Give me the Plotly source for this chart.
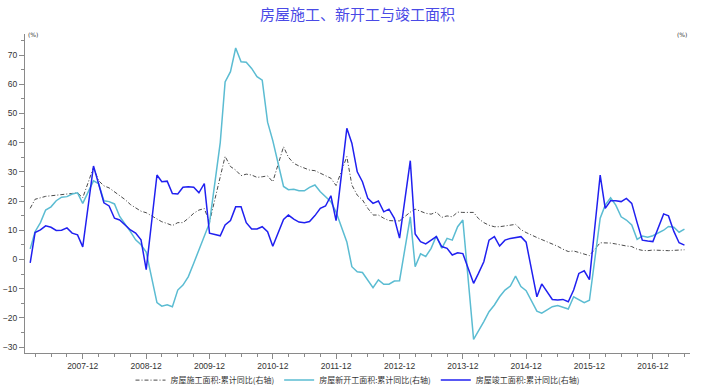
import plotly.graph_objects as go

# Month labels (cumulative data: no January)
dates = [
    "2007-02", "2007-03", "2007-04", "2007-05", "2007-06", "2007-07", "2007-08", "2007-09", "2007-10", "2007-11", "2007-12",
    "2008-02", "2008-03", "2008-04", "2008-05", "2008-06", "2008-07", "2008-08", "2008-09", "2008-10", "2008-11", "2008-12",
    "2009-02", "2009-03", "2009-04", "2009-05", "2009-06", "2009-07", "2009-08", "2009-09", "2009-10", "2009-11", "2009-12",
    "2010-02", "2010-03", "2010-04", "2010-05", "2010-06", "2010-07", "2010-08", "2010-09", "2010-10", "2010-11", "2010-12",
    "2011-02", "2011-03", "2011-04", "2011-05", "2011-06", "2011-07", "2011-08", "2011-09", "2011-10", "2011-11", "2011-12",
    "2012-02", "2012-03", "2012-04", "2012-05", "2012-06", "2012-07", "2012-08", "2012-09", "2012-10", "2012-11", "2012-12",
    "2013-02", "2013-03", "2013-04", "2013-05", "2013-06", "2013-07", "2013-08", "2013-09", "2013-10", "2013-11", "2013-12",
    "2014-02", "2014-03", "2014-04", "2014-05", "2014-06", "2014-07", "2014-08", "2014-09", "2014-10", "2014-11", "2014-12",
    "2015-02", "2015-03", "2015-04", "2015-05", "2015-06", "2015-07", "2015-08", "2015-09", "2015-10", "2015-11", "2015-12",
    "2016-02", "2016-03", "2016-04", "2016-05", "2016-06", "2016-07", "2016-08", "2016-09", "2016-10", "2016-11", "2016-12",
    "2017-02", "2017-03", "2017-04", "2017-05", "2017-06",
]

# 房屋施工面积:累计同比 (%)
construction = [
    17.5, 20.6, 21.1, 21.6, 21.8, 22.0, 22.4, 22.5, 22.7, 22.8, 21.1,
    31.5, 27.0, 25.2, 24.5, 23.2, 22.0, 20.5, 18.8, 17.6, 16.5, 16.0,
    13.8, 12.9, 12.3, 11.6, 12.6, 12.6, 14.1, 15.8, 16.9, 17.4, 12.8,
    28.0, 35.3, 31.8, 30.6, 28.7, 29.2, 28.9, 28.1, 28.3, 28.6, 26.6,
    38.6, 35.0, 32.9, 32.0, 31.2, 30.6, 30.4, 29.5, 28.6, 27.8, 25.3,
    35.2, 25.5, 22.0, 20.4, 17.5, 15.2, 15.2, 14.1, 13.3, 13.2, 13.2,
    16.2, 17.2, 16.5, 15.8, 15.5, 16.2, 14.4, 14.9, 14.6, 16.2, 16.1,
    16.1, 14.0, 12.6, 11.7, 11.2, 11.2, 11.4, 11.8, 12.0, 10.2, 9.2,
    7.5, 6.8, 6.2, 5.3, 4.5, 3.5, 2.7, 2.9, 2.3, 1.9, 1.3,
    5.7, 5.7, 5.6, 5.3, 4.9, 4.6, 4.4, 3.5, 3.1, 3.0, 3.2,
    3.0, 3.0, 3.1, 3.2, 3.3,
]

# 房屋新开工面积:累计同比 (%)
new_starts = [
    3.6, 9.5, 12.6, 16.9, 18.0, 20.1, 21.3, 21.5, 22.4, 22.8, 19.2,
    26.9, 26.0, 20.1, 19.8, 19.0, 14.7, 12.2, 9.5, 6.7, 5.0, 2.5,
    -14.8, -16.0, -15.5, -16.2, -10.5, -8.8, -5.9, -1.3, 3.2, 8.0, 12.5,
    40.0, 60.8, 64.3, 72.4, 67.7, 67.5, 65.4, 62.6, 61.4, 47.0, 40.7,
    25.0, 23.9, 24.0, 23.5, 23.5, 24.7, 25.5, 23.2, 21.5, 19.8, 16.2,
    6.0, -2.5, -4.2, -4.5, -7.0, -9.7, -7.0, -8.5, -8.5, -7.4, -7.3,
    14.6, -2.5, 1.9, 1.0, 3.8, 8.0, 3.8, 7.2, 6.6, 11.2, 13.5,
    -27.4, -24.7, -21.3, -17.9, -15.6, -12.8, -10.5, -9.1, -5.7, -9.3, -10.7,
    -17.7, -18.4, -17.3, -16.2, -15.8, -16.5, -17.0, -12.8, -13.8, -14.8, -14.0,
    14.1, 18.6, 21.1, 18.6, 14.6, 13.5, 11.8, 6.9, 8.0, 7.6, 8.1,
    10.0, 11.3, 11.0, 9.3, 10.4,
]

# 房屋竣工面积:累计同比 (%)
completions = [
    -1.2, 9.2, 10.1, 11.5, 11.0, 9.9, 10.0, 10.8, 9.0, 8.4, 4.3,
    32.0, 26.0, 19.4, 18.3, 14.1, 13.5, 11.8, 10.1, 9.0, 6.7, -3.5,
    28.9, 26.6, 26.8, 22.6, 22.4, 24.7, 24.9, 24.7, 22.8, 26.0, 9.0,
    8.1, 11.8, 13.3, 18.0, 18.0, 12.6, 10.4, 10.4, 11.2, 9.5, 4.5,
    13.7, 15.2, 13.8, 12.8, 12.6, 13.0, 15.0, 17.5, 18.3, 21.8, 13.3,
    44.9, 39.8, 30.0, 26.6, 20.9, 19.2, 20.0, 16.3, 17.2, 14.1, 7.3,
    33.8, 8.7, 6.1, 5.3, 6.6, 7.8, 4.4, 3.8, 1.5, 2.3, 2.0,
    -8.2, -4.8, -0.8, 6.6, 7.8, 4.6, 6.6, 7.2, 7.6, 7.8, 5.9,
    -12.8, -8.4, -11.1, -13.7, -13.9, -13.7, -14.5, -10.5, -4.8, -3.9, -6.9,
    28.9, 17.5, 20.1, 20.1, 19.8, 20.9, 19.2, 12.6, 6.6, 6.3, 6.1,
    15.6, 14.9, 9.6, 5.7, 4.9,
]

series_names = [
    "房屋施工面积:累计同比(右轴)",
    "房屋新开工面积:累计同比(右轴)",
    "房屋竣工面积:累计同比(右轴)",
]
title_text = "房屋施工、新开工与竣工面积"

x_dates = [d + "-01" for d in dates]

fig = go.Figure()
fig.add_trace(go.Scatter(
    x=x_dates, y=construction, name=series_names[0], mode="lines",
    line=dict(color="#4A4A4A", width=1, dash="4px,2px,1px,2px"),
))
fig.add_trace(go.Scatter(
    x=x_dates, y=new_starts, name=series_names[1], mode="lines",
    line=dict(color="#5BBCD2", width=1.5),
))
fig.add_trace(go.Scatter(
    x=x_dates, y=completions, name=series_names[2], mode="lines",
    line=dict(color="#2020F0", width=1.5),
))

yrange = [-32.05, 77.2]
axis_col = "#8A8A8A"
tick_font = dict(family="Liberation Sans, Arial, sans-serif", size=8.5, color="#333333")

fig.update_layout(
    width=715, height=390, autosize=False,
    margin=dict(l=25, r=25, t=34, b=37, autoexpand=False),
    paper_bgcolor="white", plot_bgcolor="white",
    title=dict(text=title_text, x=0.5, xanchor="center", y=1 - 15 / 390, yanchor="middle",
               font=dict(family="Noto Sans CJK SC", size=15, color="#4A4AE6")),
    font=dict(family="Noto Sans CJK SC", size=8, color="#333333"),
    showlegend=True,
    legend=dict(orientation="h", x=0.5, xanchor="center", y=-0.085, yanchor="middle",
                font=dict(family="Noto Sans CJK SC", size=8, color="#333333"),
                itemwidth=30, bgcolor="rgba(0,0,0,0)"),
    xaxis=dict(
        type="date", range=["2007-01-02", "2017-07-03"], automargin=False,
        showline=True, linecolor=axis_col, linewidth=1,
        ticks="outside", ticklen=5, tickcolor=axis_col,
        tick0="2007-12-01", dtick="M12", tickformat="%Y-%m",
        tickfont=tick_font, showgrid=False, zeroline=False,
        minor=dict(tick0="2007-03-01", dtick="M3", ticks="outside", ticklen=3,
                   tickcolor=axis_col, showgrid=False),
    ),
    yaxis=dict(
        range=yrange, tick0=0, dtick=10, ticks="outside", ticklen=5, tickcolor=axis_col,
        showline=True, linecolor=axis_col, linewidth=1, automargin=False,
        tickfont=tick_font, showgrid=False, zeroline=False,
        minor=dict(dtick=5, ticks="outside", ticklen=3, tickcolor=axis_col, showgrid=False),
    ),
    yaxis2=dict(
        range=yrange, tick0=0, dtick=10, ticks="outside", ticklen=5, tickcolor=axis_col,
        showline=True, linecolor=axis_col, linewidth=1, overlaying="y", side="right",
        automargin=False,
        tickfont=tick_font, showgrid=False, zeroline=False,
        minor=dict(dtick=5, ticks="outside", ticklen=3, tickcolor=axis_col, showgrid=False),
    ),
    annotations=[
        dict(text="(%)", xref="paper", yref="paper", x=0, y=1, xanchor="left", yanchor="middle",
             xshift=1, yshift=0, showarrow=False, font=dict(size=6, color="#333333", family="DejaVu Sans")),
        dict(text="(%)", xref="paper", yref="paper", x=1, y=1, xanchor="right", yanchor="middle",
             xshift=-1, yshift=0, showarrow=False, font=dict(size=6, color="#333333", family="DejaVu Sans")),
    ],
)

fig.write_html(
    "out.html",
    config={"displayModeBar": False},
    post_script="document.body.style.margin='0';document.body.style.overflow='hidden';",
)
